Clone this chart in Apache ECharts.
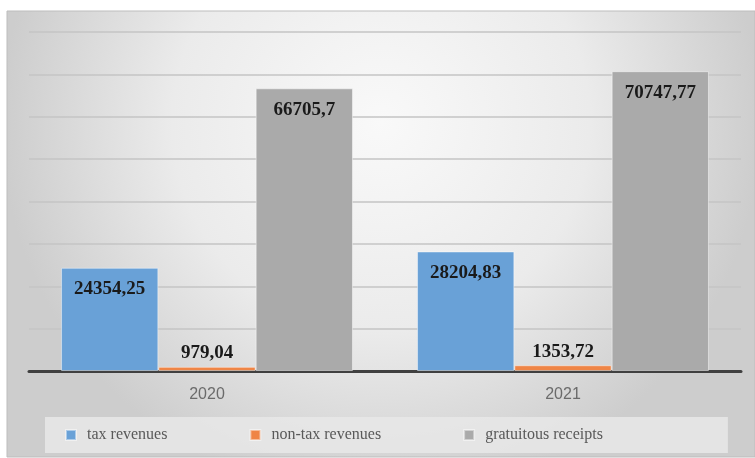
<!DOCTYPE html>
<html>
<head>
<meta charset="utf-8">
<script src="https://cdn.jsdelivr.net/npm/echarts@6/dist/echarts.min.js"></script>
<style>
html, body { margin: 0; padding: 0; background: #fff; }
#chart { width: 755px; height: 458px; }
</style>
</head>
<body>
<div id="chart"></div>
<script>
var years = ['2020', '2021'];
var seriesNames = ['tax revenues', 'non-tax revenues', 'gratuitous receipts'];
var taxRevenues = [24354.25, 28204.83];
var nonTaxRevenues = [979.04, 1353.72];
var gratuitousReceipts = [66705.7, 70747.77];
var colors = ['#69a1d7', '#ef8546', '#aaaaaa'];

function fmt(p) {
	return String(p.value).replace('.', ',');
}

function makeSeries(name, values, color, pos, dist) {
	return {
		name: name,
		type: 'bar',
		data: values,
		barGap: '0%',
		barCategoryGap: '18%',
		itemStyle: {
			color: color,
			borderColor: 'rgba(255,255,255,0.45)',
			borderWidth: 1
		},
		label: {
			show: true,
			position: pos,
			distance: dist,
			formatter: fmt,
			color: '#1a1a1a',
			fontFamily: 'Liberation Serif',
			fontWeight: 'bold',
			fontSize: 19
		}
	};
}

var myChart = echarts.init(document.getElementById('chart'));
var option = {
	animation: false,
	color: colors,
	graphic: [{
		type: 'rect',
		z: -10,
		shape: { x: 7, y: 11, width: 748, height: 446 },
		style: {
			fill: {
				type: 'radial', x: 0.5, y: 0.25, r: 0.85,
				colorStops: [
					{ offset: 0, color: '#f9f9f9' },
					{ offset: 0.55, color: '#ebebeb' },
					{ offset: 1, color: '#cdcdcd' }
				]
			},
			stroke: '#bdbdbd',
			lineWidth: 1
		}
	}],
	grid: {
		left: 29,
		right: 14,
		top: 32,
		bottom: 87
	},
	legend: {
		data: seriesNames,
		left: 45,
		top: 417,
		padding: [10, 125, 10, 20],
		backgroundColor: 'rgba(232,232,232,0.85)',
		itemWidth: 10,
		itemHeight: 10,
		itemGap: 82,
		icon: 'rect',
		textStyle: {
			fontFamily: 'Liberation Serif',
			fontSize: 16,
			color: '#595959',
			padding: [0, 0, 0, 6]
		}
	},
	xAxis: {
		type: 'category',
		data: years,
		axisTick: { show: false },
		axisLine: { lineStyle: { color: '#404040', width: 3 } },
		axisLabel: {
			margin: 16,
			color: '#6b6b6b',
			fontFamily: 'Liberation Sans',
			fontSize: 16
		}
	},
	yAxis: {
		type: 'value',
		min: 0,
		max: 80000,
		interval: 10000,
		axisLabel: { show: false },
		axisLine: { show: false },
		axisTick: { show: false },
		splitLine: { lineStyle: { color: '#c4c4c4', width: 1.5 } }
	},
	series: [
		makeSeries(seriesNames[0], taxRevenues, colors[0], 'insideTop', 12),
		makeSeries(seriesNames[1], nonTaxRevenues, colors[1], 'top', 4),
		makeSeries(seriesNames[2], gratuitousReceipts, colors[2], 'insideTop', 12)
	]
};
myChart.setOption(option);
</script>
</body>
</html>
